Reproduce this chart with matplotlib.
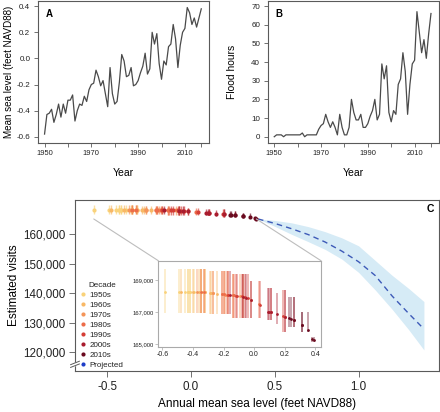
import numpy as np
import matplotlib
matplotlib.use("Agg")
import matplotlib.pyplot as plt
from matplotlib.lines import Line2D
from matplotlib.patches import ConnectionPatch
from matplotlib.ticker import FuncFormatter

plt.rcParams['font.family'] = ['Liberation Sans', 'DejaVu Sans']
plt.rcParams['axes.unicode_minus'] = False

# ---------------- data ----------------
years = list(range(1950, 2018))
sea_level = [-0.58, -0.43, -0.42, -0.39, -0.49, -0.43, -0.35, -0.45, -0.35, -0.42,
             -0.32, -0.32, -0.28, -0.48, -0.40, -0.35, -0.36, -0.29, -0.33, -0.24,
             -0.20, -0.19, -0.09, -0.14, -0.21, -0.17, -0.27, -0.37, -0.07, -0.27,
             -0.35, -0.33, -0.18, 0.03, -0.02, -0.14, -0.13, -0.07, -0.21, -0.20,
             -0.17, -0.11, -0.06, 0.04, -0.12, -0.08, 0.20, 0.11, 0.19, -0.04,
             -0.16, -0.02, -0.05, 0.09, 0.11, 0.26, 0.15, -0.07, 0.10, 0.20,
             0.23, 0.39, 0.35, 0.26, 0.31, 0.24, 0.31, 0.38]
flood_hours = [0, 1, 1, 1, 0, 1, 1, 1, 1, 1,
               1, 1, 2, 0, 1, 1, 1, 1, 1, 4,
               6, 7, 12, 8, 5, 8, 5, 1, 12, 5,
               1, 1, 5, 20, 13, 9, 9, 12, 5, 5,
               7, 11, 14, 20, 9, 12, 39, 31, 38, 13,
               8, 14, 12, 28, 31, 45, 35, 12, 28, 39,
               41, 67, 56, 45, 52, 42, 55, 66]
visits = [168250, 168250, 168250, 168250, 168250, 168250, 168250, 168250, 168250, 168250,
          168240, 168240, 168200, 168250, 168250, 168250, 168250, 168210, 168240, 168150,
          168100, 168090, 168000, 168050, 168110, 168070, 168190, 168250, 167960, 168190,
          168250, 168240, 168080, 167490, 167780, 168050, 168040, 167960, 168110, 168100,
          168070, 168020, 167930, 167450, 168030, 167980, 166720, 166980, 166750, 167850,
          168060, 167780, 167900, 167030, 166980, 166500, 166860, 167960, 167000, 166720,
          166610, 165230, 165900, 166500, 166190, 166580, 166190, 165340]
visits_hi = [169700, 169700, 169700, 169700, 169700, 169700, 169700, 169700, 169700, 169700,
             169700, 169700, 169550, 169700, 169700, 169700, 169700, 169550, 169700, 169550,
             169550, 169550, 169400, 169400, 169550, 169550, 169550, 169700, 169400, 169550,
             169700, 169700, 169550, 168950, 168950, 169400, 169400, 169400, 169550, 169550,
             169550, 169400, 169400, 168950, 169400, 169400, 168370, 168480, 168370, 169400,
             169550, 168950, 169400, 168480, 168480, 167950, 168200, 169400, 168480, 168370,
             167950, 165450, 167000, 167950, 167000, 167950, 167000, 165450]
visits_lo = [166950, 166950, 166950, 166950, 166950, 166950, 166950, 166950, 166950, 166950,
             166950, 166950, 166900, 166950, 166950, 166950, 166950, 166900, 166950, 166900,
             166900, 166900, 166600, 166600, 166900, 166900, 166900, 166950, 166600, 166900,
             166950, 166950, 166900, 166600, 166600, 166600, 166600, 166600, 166900, 166900,
             166900, 166600, 166600, 166600, 166600, 166600, 165750, 166490, 165750, 166600,
             166900, 166600, 166600, 166490, 166490, 166070, 166230, 166600, 166490, 165750,
             166070, 165100, 165750, 166070, 165750, 166070, 165750, 165100]
decades = ['1950s', '1960s', '1970s', '1980s', '1990s', '2000s', '2010s']
decade_colors = ['#F9D27A', '#F8B866', '#F4955A', '#EC6C4A', '#D53E36', '#A91C2E', '#6A0A1F']
projected_label = 'Projected'
projected_color = '#1F3EC8'
proj_slr = [0.40, 0.50, 0.60, 0.70, 0.80, 0.90, 1.00, 1.10, 1.20, 1.30, 1.39]
proj_mean = [165100, 163600, 161800, 159800, 157300, 154200, 150600, 145900, 139000, 133000, 127800]
proj_hi = [165100, 164600, 163800, 162500, 160800, 158700, 156000, 151000, 146000, 141500, 137100]
proj_lo = [165100, 162600, 159900, 157400, 154800, 151500, 147000, 141000, 134500, 127500, 120700]

yrs = np.array(years)
slr = np.array(sea_level)
vis = np.array(visits)
vhi = np.array(visits_hi)
vlo = np.array(visits_lo)
dec_idx = (yrs // 10 - 195).astype(int)

# ---------------- figure ----------------
W, H = 440, 412
fig = plt.figure(figsize=(W / 100, H / 100), dpi=100)


def box(l, t, r, b):
    return [l / W, 1 - b / H, (r - l) / W, (b - t) / H]


SP = '#5a5a5a'


def rstyle(ax, xs=5.4, ys=5.8):
    for s in ax.spines.values():
        s.set_color(SP)
        s.set_linewidth(0.8)
    ax.tick_params(axis='both', direction='out', length=3, width=0.6, color=SP,
                   labelcolor='#222222', pad=2.5)
    ax.tick_params(axis='x', labelsize=xs)
    ax.tick_params(axis='y', labelsize=ys)


year_ticks = [1950, 1960, 1970, 1980, 1990, 2000, 2010, years[-1]]
year_labels = ['1950', '', '1970', '', '1990', '', '2010', '']

# Panel A
axA = fig.add_axes(box(38, 1, 209, 142.7))
axA.plot(years, sea_level, color='#4a4a4a', lw=0.9)
axA.set_xlim(1947.2, 2020.3)
axA.set_ylim(-0.646, 0.44)
axA.set_xticks(year_ticks)
axA.set_xticklabels(year_labels)
axA.set_yticks([-0.6, -0.4, -0.2, 0.0, 0.2, 0.4])
axA.yaxis.set_major_formatter(FuncFormatter(lambda v, p: f'{v:.1f}'))
rstyle(axA)
axA.set_xlabel('Year', fontsize=7.5, labelpad=8)
axA.set_ylabel('Mean sea level (feet NAVD88)', fontsize=7.1, labelpad=2)
axA.text(0.045, 0.885, 'A', transform=axA.transAxes, fontsize=7, fontweight='bold')

# Panel B
axB = fig.add_axes(box(267.7, 1, 438.7, 142.7))
axB.plot(years, flood_hours, color='#4a4a4a', lw=0.9)
axB.set_xlim(1947.2, 2020.3)
axB.set_ylim(-3.2, 72.7)
axB.set_xticks(year_ticks)
axB.set_xticklabels(year_labels)
axB.set_yticks([0, 10, 20, 30, 40, 50, 60, 70])
rstyle(axB)
axB.set_xlabel('Year', fontsize=7.5, labelpad=8)
axB.set_ylabel('Flood hours', fontsize=7.4, labelpad=10)
axB.text(0.045, 0.885, 'B', transform=axB.transAxes, fontsize=7, fontweight='bold')

# Panel C
axC = fig.add_axes(box(75, 199.5, 439, 371))
axC.fill_between(proj_slr, proj_lo, proj_hi, color='#D6EBF6', lw=0, zorder=1)
axC.plot(proj_slr, proj_mean, color='#3D5AB8', lw=1.0, ls=(0, (4, 3)), zorder=2)
for d in range(len(decades)):
    m = dec_idx == d
    axC.vlines(slr[m], vlo[m], vhi[m], color=decade_colors[d], lw=1.0, alpha=0.65, zorder=3)
    axC.scatter(slr[m], vis[m], s=9, color=decade_colors[d], lw=0, zorder=4)
axC.set_xlim(-0.692, 1.48)
axC.set_ylim(113560, 171700)
axC.set_xticks([-0.5, 0.0, 0.5, 1.0])
axC.xaxis.set_major_formatter(FuncFormatter(lambda v, p: f'{v:.1f}'))
axC.set_yticks([120000, 130000, 140000, 150000, 160000])
axC.yaxis.set_major_formatter(FuncFormatter(lambda v, p: f'{int(v):,}'))
rstyle(axC, 8.4, 8.4)
axC.tick_params(length=4, pad=3)
axC.set_xlabel('Annual mean sea level (feet NAVD88)', fontsize=8.5, labelpad=4)
axC.set_ylabel('Estimated visits', fontsize=8.5, labelpad=2)
axC.text(0.967, 0.925, 'C', transform=axC.transAxes, fontsize=7.5, fontweight='bold')

# axis break
yb = 0.043
axC.plot([-0.012, 0.012], [yb - 0.018, yb + 0.006], transform=axC.transAxes, color='white',
         lw=2.5, clip_on=False, zorder=10)
for dy in (-0.012, 0.004):
    axC.plot([-0.012, 0.012], [yb + dy - 0.010, yb + dy + 0.010], transform=axC.transAxes,
             color=SP, lw=0.7, clip_on=False, zorder=11)

# legend
handles = [Line2D([], [], ls='none', marker='o', ms=3.0, mec='none', mfc=c) for c in decade_colors]
handles.append(Line2D([], [], ls='none', marker='o', ms=3.0, mec='none', mfc=projected_color))
leg = axC.legend(handles, decades + [projected_label], title='Decade', loc='upper left',
                 bbox_to_anchor=(0.012, 0.53), frameon=False, fontsize=5.8, title_fontsize=5.8,
                 handlelength=0.6, handletextpad=0.5, labelspacing=0.3, borderpad=0.2,
                 borderaxespad=0.0)
leg.get_title().set_color('#222222')
for t in leg.get_texts():
    t.set_color('#222222')

# Inset
axI = fig.add_axes(box(158.3, 260.7, 321, 346.7), zorder=5)
axI.set_facecolor('white')
for d in range(len(decades)):
    m = dec_idx == d
    axI.vlines(slr[m], vlo[m], vhi[m], color=decade_colors[d], lw=1.3, alpha=0.4, zorder=2)
    axI.scatter(slr[m], vis[m], s=4, color=decade_colors[d], lw=0, zorder=3)
axI.set_xlim(-0.626, 0.437)
axI.set_ylim(164830, 170215)
axI.set_xticks([-0.6, -0.4, -0.2, 0.0, 0.2, 0.4])
axI.xaxis.set_major_formatter(FuncFormatter(lambda v, p: f'{v:.1f}'))
axI.set_yticks([165000, 167000, 169000])
axI.yaxis.set_major_formatter(FuncFormatter(lambda v, p: f'{int(v):,}'))
for s in axI.spines.values():
    s.set_color('#aaaaaa')
    s.set_linewidth(0.8)
axI.tick_params(direction='out', length=2, width=0.5, color='#aaaaaa', labelcolor='#222222', pad=1)
axI.tick_params(axis='x', labelsize=5)
axI.tick_params(axis='y', labelsize=4.2)

# connectors
for xa, xb in ((slr.min(), 0), (slr.max(), 1)):
    con = ConnectionPatch(xyA=(xa, vlo.min()), coordsA=axC.transData, xyB=(xb, 1),
                          coordsB=axI.transAxes, color='#bdbdbd', lw=0.8, zorder=4)
    fig.add_artist(con)

fig.savefig('out.png', dpi=100)
